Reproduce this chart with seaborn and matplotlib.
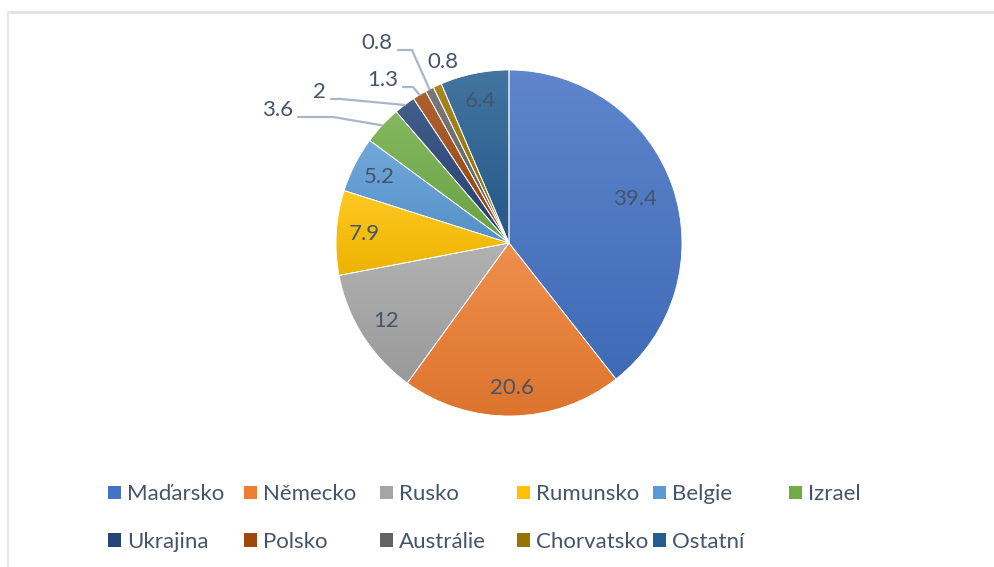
import numpy as np
import matplotlib
matplotlib.use("Agg")
import matplotlib.pyplot as plt
from matplotlib.patches import Patch
from matplotlib.lines import Line2D
from matplotlib.legend import Legend
from matplotlib.colors import to_rgb
import seaborn as sns

# Data
countries = ["Maďarsko", "Německo", "Rusko", "Rumunsko", "Belgie", "Izrael",
             "Ukrajina", "Polsko", "Austrálie", "Chorvatsko", "Ostatní"]
shares = [39.4, 20.6, 12, 7.9, 5.2, 3.6, 2, 1.3, 0.8, 0.8, 6.4]
slice_hex = ["#4472C4", "#ED7D31", "#A5A5A5", "#FFC000", "#5B9BD5", "#70AD47",
             "#264478", "#9E480E", "#636363", "#997300", "#255E91"]

# Layout (pixel units, y measured downwards from the top edge)
W, H = 994, 567
CX, CY, R = 509, 243, 173
INSIDE_FRAC = 0.84
INSIDE_FRAC_SPECIAL = {0: 0.77}
# slice index -> (label right edge x, label centre y, straight leader length or None)
OUTSIDE = {5: (293, 110, 35), 6: (326, 92, 10), 7: (398, 80, 10),
           8: (393, 43, 14), 9: (458, 62, None)}
LEG_X = [108, 244, 380, 517, 653, 789]
LEG_Y = [494.5, 542]
TEXT_C = "#44546A"
LEADER_C = "#A9B6C8"
FS = 16
FS_PX = FS * 100 / 72

sns.set_theme(style="white")
plt.rcParams["font.family"] = ["Lato", "DejaVu Sans"]
palette = sns.color_palette(slice_hex)

fig = plt.figure(figsize=(W / 100, H / 100), dpi=100)
fig.patch.set_facecolor("white")
ax = fig.add_axes([0, 0, 1, 1])


def fy(y):
    return H - y


wedges, _ = ax.pie(shares, colors=palette, startangle=90, counterclock=False,
                   center=(CX, fy(CY)), radius=R,
                   wedgeprops=dict(linewidth=0))


def mix(c, other, t):
    c = np.array(to_rgb(c))
    return (1 - t) * c + t * np.array(other)


# vertical gradient fill per slice, lighter at the top
for w, col in zip(wedges, palette):
    ext = w.get_path().get_extents()
    top = mix(col, (1, 1, 1), 0.14)
    bot = mix(col, (0, 0, 0), 0.07)
    t = np.linspace(0, 1, 128)[:, None]
    grad = (1 - t) * top + t * bot
    img = ax.imshow(grad[:, None, :], extent=(ext.x0, ext.x1, ext.y0, ext.y1),
                    origin="upper", aspect="auto", interpolation="bilinear",
                    zorder=1)
    img.set_clip_path(w)
    w.set_facecolor("none")
    w.set_edgecolor("white")
    w.set_linewidth(0.6)
    w.set_zorder(2)

# value labels
for i, (w, v) in enumerate(zip(wedges, shares)):
    mid = np.deg2rad((w.theta1 + w.theta2) / 2)
    txt = f"{v:g}"
    if i in OUTSIDE:
        rx, ty, knee = OUTSIDE[i]
        ax.text(rx, fy(ty), txt, ha="right", va="center", fontsize=FS,
                color=TEXT_C, zorder=4)
        if knee is not None:
            ex = CX + R * np.cos(mid)
            ey = fy(CY) + R * np.sin(mid)
            sx, sy = rx + 5, fy(ty + 7)
            ax.plot([sx, sx + knee, ex], [sy, sy, ey], color=LEADER_C,
                    lw=1.6, solid_joinstyle="miter", zorder=3)
    else:
        frac = INSIDE_FRAC_SPECIAL.get(i, INSIDE_FRAC)
        x = CX + frac * R * np.cos(mid)
        y = fy(CY) + frac * R * np.sin(mid)
        ax.text(x, y, txt, ha="center", va="center", fontsize=FS,
                color=TEXT_C, zorder=4)

ax.set_xlim(0, W)
ax.set_ylim(0, H)
ax.set_aspect("auto")
ax.axis("off")

# legend: fixed-width columns, filled row by row
ncol = len(LEG_X)
for i, (name, col) in enumerate(zip(countries, palette)):
    r, c = divmod(i, ncol)
    leg = Legend(ax, [Patch(facecolor=col, edgecolor="none")], [name],
                 loc="center left",
                 bbox_to_anchor=(LEG_X[c], fy(LEG_Y[r])),
                 bbox_transform=ax.transData, frameon=False,
                 fontsize=FS, handlelength=12.5 / FS_PX,
                 handleheight=12.5 / FS_PX,
                 handletextpad=6.5 / FS_PX, borderpad=0, borderaxespad=0,
                 labelcolor=TEXT_C)
    ax.add_artist(leg)

# chart area border (top and left edges visible)
fig.add_artist(Line2D([8 / W, 1], [1 - 11.5 / H] * 2, color="#DCE1E8",
                      lw=1.8, transform=fig.transFigure))
fig.add_artist(Line2D([8 / W] * 2, [0, 1 - 11.5 / H], color="#E3E6EB",
                      lw=1.5, transform=fig.transFigure))

fig.savefig("out.png", dpi=100)
